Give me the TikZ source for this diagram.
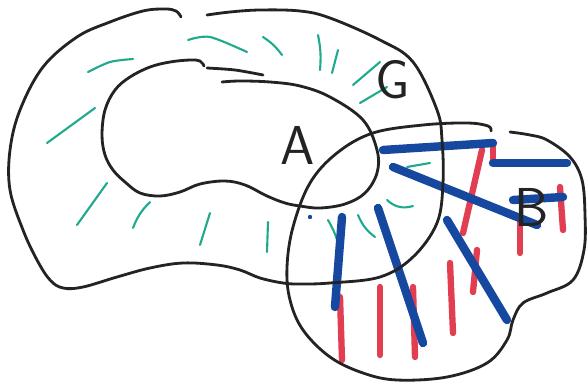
\documentclass[tikz,border=0pt]{standalone}
\usepackage{tikz}
\usetikzlibrary{positioning}

\definecolor{tinta}{RGB}{35,35,35}
\definecolor{verdeagua}{RGB}{30,170,140}
\definecolor{azulmarc}{RGB}{22,72,160}
\definecolor{rojomarc}{RGB}{226,62,82}

\begin{document}
\begin{tikzpicture}[
            x=0.05cm, y=-0.05cm,
            % Estilos de los trazos
            contorno/.style={draw=tinta, line width=4pt, line cap=round, line join=round},
            verde/.style={draw=verdeagua, line width=3pt, line cap=round},
            azul/.style={draw=azulmarc, line width=12pt, line cap=round},
            rojo/.style={draw=rojomarc, line width=9pt, line cap=round},
            letra/.style={font=\sffamily\fontsize{78}{78}\selectfont, text=tinta, inner sep=0pt}
        ]
            \useasboundingbox (0,0) rectangle (587,383);

            % Rayas verdes (region G)
            \draw[verde] plot[smooth] coordinates {(88,72) (110,62) (133,59)};
            \draw[verde] plot[smooth] coordinates {(188,40) (210,37) (247,52)};
            \draw[verde] (263,37) to[bend left=10] (282,55);
            \draw[verde] (47,143) -- (95,108);
            \draw[verde] (107,183) -- (77,225);
            \draw[verde] (150,202) to[bend right=12] (133,228);
            \draw[verde] (210,213) -- (200,245);
            \draw[verde] (268,222) -- (267,252);
            \draw[verde] (318,35) to[bend left=8] (320,70);
            \draw[verde] (338,50) -- (332,73);
            \draw[verde] (380,62) -- (353,85);
            \draw[verde] (360,103) -- (387,87);
            \draw[verde] (407,167) -- (430,163);
            \draw[verde] (387,200) to[bend right=30] (413,206);
            \draw[verde] (328,220) to[bend left=10] (340,253);
            \draw[verde] (358,215) to[bend right=15] (375,237);

            % Rayas rojas (region B)
            \draw[rojo] (493,143) -- (493,163);
            \draw[rojo] (482,150) -- (463,233);
            \draw[rojo] (477,250) -- (473,292);
            \draw[rojo] (450,263) -- (453,333);
            \draw[rojo] (413,287) -- (415,357);
            \draw[rojo] (380,287) -- (380,355);
            \draw[rojo] (340,297) -- (342,360);
            \draw[rojo] (520,220) -- (520,253);
            \draw[rojo] (560,187) -- (563,230);

            % Rayas azules
            \draw[azul] (383,150) -- (493,143);
            \draw[azul] (493,163) -- (567,163);
            \draw[azul] (393,167) -- (537,225);
            \draw[azul] (513,200) -- (563,197);
            \draw[azul] (342,217) -- (335,307);
            \draw[azul] (378,208) -- (423,343);
            \draw[azul] (447,220) -- (507,320);
            \fill[azulmarc] (310,217) circle (2.2);

            % Contorno de G (abierto arriba)
            \draw[contorno] plot[smooth, tension=0.6] coordinates {
                (181,17) (176,11) (165,9) (143,11) (110,22) (77,37) (43,67)
                (20,110) (10,150) (10,190) (23,230) (37,260) (50,280) (63,288)
                (83,287) (117,277) (150,268) (183,263) (217,265) (240,270)
                (260,278) (283,283) (300,284) (330,283) (380,277) (413,257)
                (437,223) (443,183) (442,140) (437,110) (413,62) (380,40)
                (330,18) (300,11) (260,10) (230,12) (207,15)};

            % Contorno de A
            \draw[contorno] plot[smooth, tension=0.6] coordinates {
                (204,66) (200,61) (190,60) (170,62) (150,67) (130,77) (115,90)
                (105,110) (102,135) (105,155) (113,170) (125,182) (140,193)
                (160,196) (180,192) (200,184) (225,181) (245,185) (267,196)
                (285,203) (300,206) (320,208) (345,204) (365,193) (377,173)
                (377,150) (363,120) (330,97) (300,86) (270,82) (240,81) (222,82)};
            \draw[contorno] plot[smooth] coordinates {(207,68) (235,70) (263,75)};

            % Contorno de B
            \draw[contorno] plot[smooth, tension=0.6] coordinates {
                (491,131) (488,126) (467,123) (423,125) (373,133) (337,153)
                (310,183) (293,227) (287,267) (290,300) (303,330) (330,357)
                (363,373) (397,380) (447,377) (487,363) (507,340) (513,320)
                (523,303) (547,293) (573,280) (584,250) (585,215) (582,180)
                (570,157) (547,140) (530,135) (510,132)};

            % Etiquetas
            \node[letra] (lblA) at (298,145) {A};
            \node[letra] (lblG) at (393,80) {G};
            \node[letra] (lblB) at (532,207) {B};
        \end{tikzpicture}
\end{document}
